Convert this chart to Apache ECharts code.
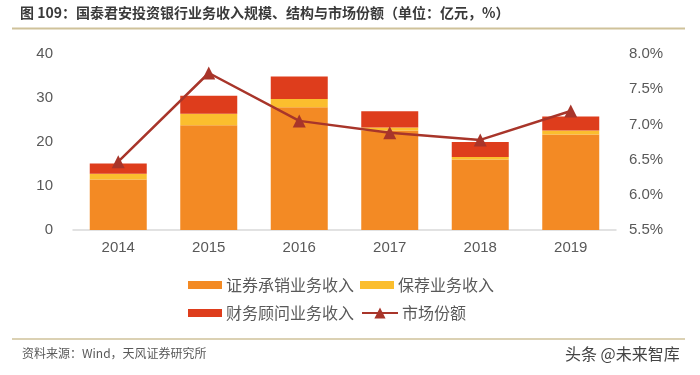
<!DOCTYPE html>
<html>
<head>
<meta charset="utf-8">
<script src="https://cdn.jsdelivr.net/npm/echarts@6/dist/echarts.min.js"></script>
<style>
  html, body { margin: 0; padding: 0; background: #fff; }
  #chart { width: 700px; height: 375px; }
</style>
</head>
<body>
<div id="chart"></div>
<script>
// 国泰君安投行业务收入（亿元）与市场份额（%）
var years = ['2014', '2015', '2016', '2017', '2018', '2019'];
var underwriting = [11.5, 23.8, 27.9, 22.6, 16.0, 21.7];
var sponsor = [1.3, 2.6, 1.9, 0.7, 0.6, 0.9];
var advisory = [2.3, 4.1, 5.1, 3.7, 3.4, 3.2];
var share = [6.47, 7.73, 7.05, 6.88, 6.78, 7.19];
var leftTicks = [0, 10, 20, 30, 40];
var rightTicks = [5.5, 6.0, 6.5, 7.0, 7.5, 8.0];

var FONT = '"Noto Sans CJK SC", "Liberation Sans", sans-serif';
var legendText = { fontSize: 16, color: '#595959', fontFamily: FONT, padding: [0, 0, 0, -1] };
var myChart = echarts.init(document.getElementById('chart'));

var option = {
  backgroundColor: '#fff',
  animation: false,
  textStyle: { fontFamily: FONT },
  grid: { left: 73, right: 84, top: 54, bottom: 145 },
  legend: [
    {
      left: 183, top: 272,
      itemWidth: 34, itemHeight: 8, itemGap: 6,
      icon: 'rect', textStyle: legendText,
      data: ['证券承销业务收入', '保荐业务收入']
    },
    {
      left: 183, top: 300,
      itemWidth: 34, itemHeight: 8,
      icon: 'rect', textStyle: legendText,
      data: ['财务顾问业务收入']
    },
    {
      left: 356, top: 300,
      itemWidth: 36, itemHeight: 14,
      textStyle: legendText,
      data: ['市场份额']
    }
  ],
  xAxis: {
    type: 'category',
    data: years,
    axisLine: { lineStyle: { color: '#d9d9d9', width: 1.5 } },
    axisTick: { show: false },
    axisLabel: { color: '#595959', fontSize: 15, margin: 10, fontFamily: '"Liberation Sans", sans-serif' }
  },
  yAxis: [
    {
      type: 'value',
      min: leftTicks[0], max: leftTicks[leftTicks.length - 1], interval: 10,
      splitLine: { show: false },
      axisLine: { show: false },
      axisTick: { show: false },
      axisLabel: { color: '#595959', fontSize: 15, margin: 20, fontFamily: '"Liberation Sans", sans-serif' }
    },
    {
      type: 'value',
      min: rightTicks[0], max: rightTicks[rightTicks.length - 1], interval: 0.5,
      splitLine: { show: false },
      axisLine: { show: false },
      axisTick: { show: false },
      axisLabel: {
        color: '#595959', fontSize: 15, margin: 13, fontFamily: '"Liberation Sans", sans-serif',
        formatter: function (v) { return v.toFixed(1) + '%'; }
      }
    }
  ],
  series: [
    {
      name: '证券承销业务收入', type: 'bar', stack: 'ib', barWidth: 57,
      itemStyle: { color: '#F38A24' },
      data: underwriting
    },
    {
      name: '保荐业务收入', type: 'bar', stack: 'ib',
      itemStyle: { color: '#FBBE2E' },
      data: sponsor
    },
    {
      name: '财务顾问业务收入', type: 'bar', stack: 'ib',
      itemStyle: { color: '#DE3D1C' },
      data: advisory
    },
    {
      name: '市场份额', type: 'line', yAxisIndex: 1,
      symbol: 'triangle', symbolSize: 13,
      lineStyle: { color: '#A8352A', width: 2.5 },
      itemStyle: { color: '#A8352A' },
      data: share
    }
  ],
  graphic: [
    {
      type: 'text', left: 20, top: 6,
      style: {
        text: '图 109：国泰君安投资银行业务收入规模、结构与市场份额（单位：亿元，%）',
        fill: '#3a3a3a', fontSize: 14, fontWeight: 'bold', fontFamily: FONT
      }
    },
    { type: 'line', shape: { x1: 12, y1: 28.5, x2: 685, y2: 28.5 }, style: { stroke: '#cfc29a', lineWidth: 2 } },
    { type: 'line', shape: { x1: 12, y1: 339, x2: 685, y2: 339 }, style: { stroke: '#cfc29a', lineWidth: 1.5 } },
    {
      type: 'text', left: 22, top: 347,
      style: { text: '资料来源：Wind，天风证券研究所', fill: '#595959', fontSize: 12, fontFamily: FONT }
    },
    {
      type: 'text', left: 565, top: 346,
      style: { text: '头条 @未来智库', fill: '#444', fontSize: 16, fontFamily: FONT }
    }
  ]
};
myChart.setOption(option);
</script>
</body>
</html>
